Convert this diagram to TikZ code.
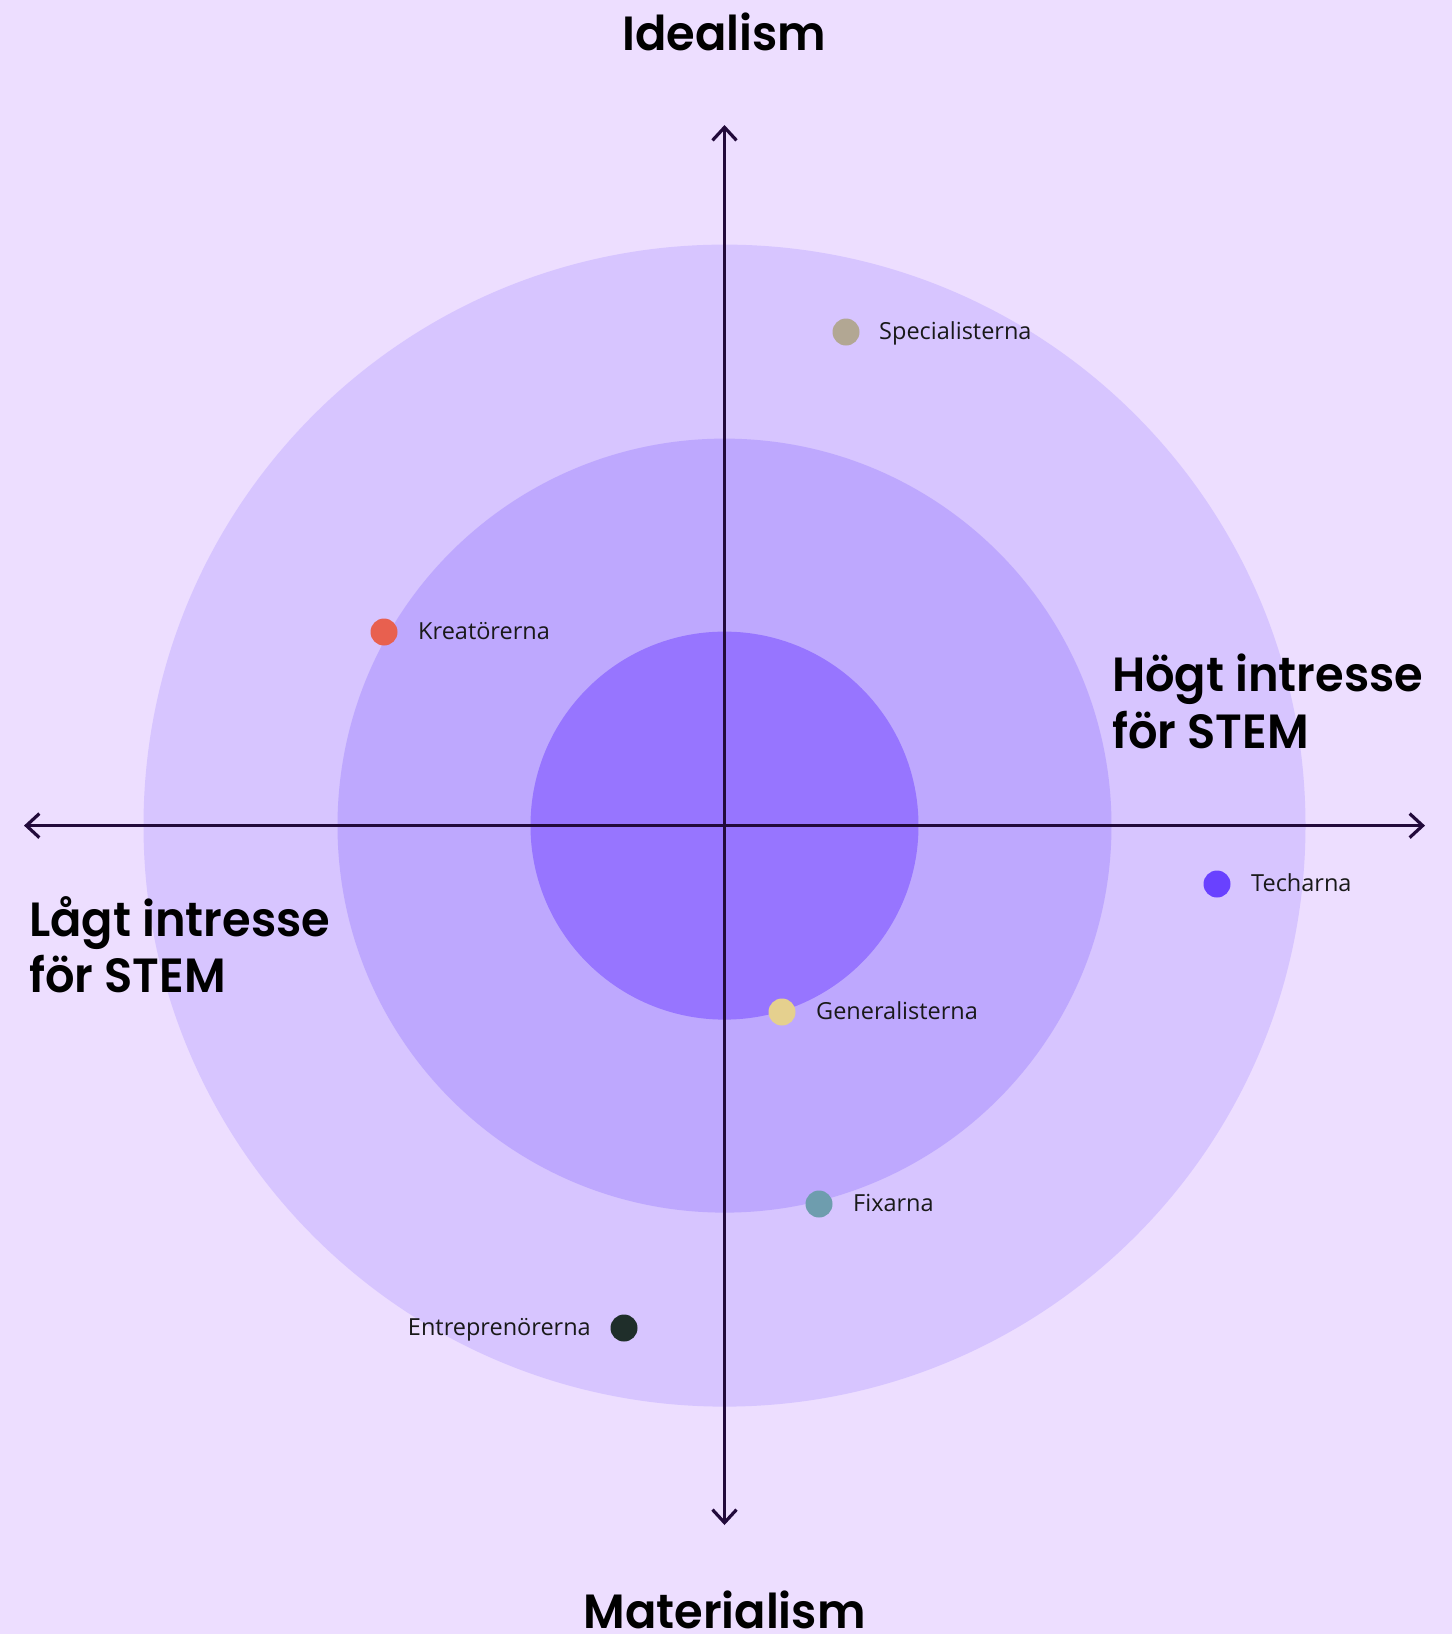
\documentclass[tikz,border=0pt]{standalone}
\usepackage{fontspec}
\setmainfont{Open Sans}
\newfontfamily\titlefont{Poppins SemiBold}[FakeStretch=0.965]
\usetikzlibrary{arrows.meta}
\definecolor{bgc}{HTML}{EDDEFF}
\definecolor{ringA}{HTML}{D7C5FF}
\definecolor{ringB}{HTML}{BEA8FE}
\definecolor{ringC}{HTML}{9775FF}
\definecolor{axisc}{HTML}{220A3B}
\definecolor{cSpec}{HTML}{B2A793}
\definecolor{cKrea}{HTML}{E8604F}
\definecolor{cEntr}{HTML}{1F2E2A}
\definecolor{cGene}{HTML}{E5D08E}
\definecolor{cFix}{HTML}{6E9DAE}
\definecolor{cTech}{HTML}{6941FF}
\tikzset{
  axisline/.style={draw=axisc, line width=3.2pt, {Straight Barb[length=13pt,width=24pt]}-{Straight Barb[length=13pt,width=24pt]}},
  dotnode/.style={circle, minimum size=27pt, inner sep=0pt, draw=none},
  lbl/.style={anchor=base west, inner sep=0pt, font=\fontsize{23.5}{27}\selectfont, text=black!90},
  bigtitle/.style={inner sep=0pt, font=\titlefont\fontsize{48}{57}\selectfont, text=black},
}
\begin{document}
\begin{tikzpicture}[x=1pt,y=-1pt]
\fill[bgc] (0,0) rectangle (1452,1634);
\useasboundingbox (0,0) rectangle (1452,1634);
\coordinate (c) at (724.5,825.6);
\fill[ringA] (c) circle (581);
\fill[ringB] (c) circle (387);
\fill[ringC] (c) circle (194);
\coordinate (ytop) at (724.5,125);
\coordinate (ybot) at (724.5,1525);
\coordinate (xleft) at (24,825.6);
\coordinate (xright) at (1425,825.6);
\draw[axisline] (ybot) -- (ytop);
\draw[axisline] (xleft) -- (xright);
% titles
\node[bigtitle, anchor=base] (ideal) at (724.5,50) {Idealism};
\node[bigtitle, anchor=base] (mater) at (724.5,1628) {Materialism};
\node[bigtitle, anchor=base west] (hog1) at (1112,691) {Högt intresse};
\node[bigtitle, anchor=base west] (hog2) at (1112,748) {för STEM};
\node[bigtitle, anchor=base west] (lag1) at (29,936) {Lågt intresse};
\node[bigtitle, anchor=base west] (lag2) at (29,992) {för STEM};
% dots and labels
\node[dotnode, fill=cSpec] (dspec) at (846,332) {};
\node[lbl] (tspec) at (879,339) {Specialisterna};
\node[dotnode, fill=cKrea] (dkrea) at (384,632) {};
\node[lbl] (tkrea) at (418,639) {Kreatörerna};
\node[dotnode, fill=cTech] (dtech) at (1217,884) {};
\node[lbl] (ttech) at (1251,891) {Techarna};
\node[dotnode, fill=cGene] (dgene) at (782,1012) {};
\node[lbl] (tgene) at (816,1019) {Generalisterna};
\node[dotnode, fill=cFix] (dfix) at (819,1204) {};
\node[lbl] (tfix) at (853,1211) {Fixarna};
\node[dotnode, fill=cEntr] (dentr) at (624,1328) {};
\node[lbl, anchor=base east] (tentr) at (591,1335) {Entreprenörerna};
\end{tikzpicture}
\end{document}
